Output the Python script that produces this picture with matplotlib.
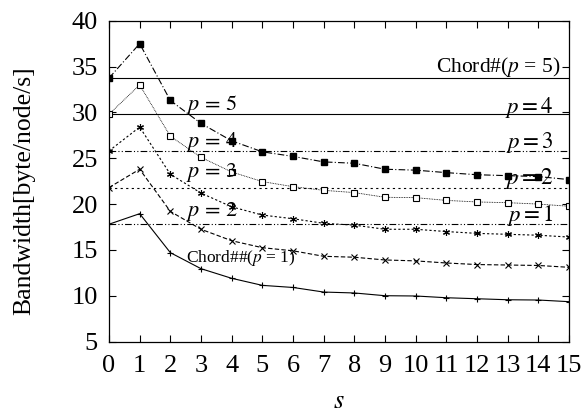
import numpy as np
import matplotlib.pyplot as plt
import matplotlib as mpl

mpl.rcParams["font.family"] = ["Liberation Serif", "DejaVu Serif"]
mpl.rcParams["mathtext.fontset"] = "stix"

s = list(range(16))

# Chord## series for p = 1..5
bw_p1 = [17.8, 18.95, 14.7, 12.95, 11.9, 11.13, 10.9, 10.4, 10.3, 10.0, 9.97, 9.78, 9.67, 9.56, 9.53, 9.35]
bw_p2 = [21.8, 23.8, 19.2, 17.25, 16.0, 15.24, 14.9, 14.3, 14.2, 13.9, 13.8, 13.57, 13.4, 13.35, 13.3, 13.1]
bw_p3 = [25.8, 28.4, 23.25, 21.2, 19.7, 18.8, 18.4, 17.9, 17.7, 17.25, 17.25, 17.0, 16.8, 16.7, 16.6, 16.4]
bw_p4 = [29.8, 33.0, 27.4, 25.1, 23.5, 22.45, 21.9, 21.5, 21.25, 20.74, 20.7, 20.4, 20.23, 20.15, 20.0, 19.76]
bw_p5 = [33.75, 37.5, 31.3, 28.8, 26.9, 25.7, 25.2, 24.6, 24.45, 23.8, 23.7, 23.43, 23.2, 23.1, 23.0, 22.67]

# Chord# constant levels for p = 1..5
chord_level = [17.8, 21.8, 25.8, 29.8, 33.75]

fig = plt.figure(figsize=(5.86, 4.15), dpi=100)
ax = fig.add_axes([0.186, 0.177, 0.785, 0.773])

# horizontal Chord# lines
hstyles = [(0, (6, 2, 1, 2, 1, 2)), (0, (2, 3)), (0, (6, 2, 1, 2, 1, 2)), "-", "-"]
for lvl, ls in zip(chord_level, hstyles):
    ax.axhline(lvl, color="black", lw=0.8, ls=ls)

ax.plot(s, bw_p1, color="black", lw=0.8, ls="-", marker="+", ms=5, mew=0.8)
ax.plot(s, bw_p2, color="black", lw=0.8, ls=(0, (4, 2)), marker="x", ms=4, mew=0.8)
ax.plot(s, bw_p3, color="black", lw=0.8, ls=(0, (2, 2)), marker=(6, 2, 0), ms=5, mew=0.8)
ax.plot(s, bw_p4, color="black", lw=0.6, ls=(0, (1, 1)), marker="s", ms=4.2, mfc="white", mew=0.8)
ax.plot(s, bw_p5, color="black", lw=0.8, ls=(0, (6, 2, 1, 2)), marker="s", ms=5)

fs = 19
# left labels for Chord## series
ax.text(2.5, 30.85, "$p\\,{=}\\,5$", fontsize=16, va="center", ha="left")
ax.text(2.5, 26.8, "$p\\,{=}\\,4$", fontsize=16, va="center", ha="left")
ax.text(2.5, 23.4, "$p\\,{=}\\,3$", fontsize=16, va="center", ha="left")
ax.text(2.5, 19.2, "$p\\,{=}\\,2$", fontsize=16, va="center", ha="left")
ax.text(2.5, 14.1, "Chord##($p$ = 1)", fontsize=12.5, va="center", ha="left")

# right labels for Chord# lines
ax.text(14.72, 34.95, "Chord#($p$ = 5)", fontsize=15.5, va="center", ha="right")
ax.text(14.5, 30.5, "$p = 4$", fontsize=16.5, va="center", ha="right")
ax.text(14.5, 26.7, "$p = 3$", fontsize=16.5, va="center", ha="right")
ax.text(14.5, 22.8, "$p = 2$", fontsize=16.5, va="center", ha="right")
ax.text(14.5, 18.8, "$p = 1$", fontsize=16.5, va="center", ha="right")

ax.set_xlim(0, 15)
ax.set_ylim(5, 40)
ax.set_xticks(s)
ax.set_yticks(range(5, 41, 5))
ax.tick_params(direction="in", top=True, right=True, length=5, width=0.8,
               labelsize=fs)
ax.tick_params(axis="x", pad=10)
ax.tick_params(axis="y", pad=8)
for sp in ax.spines.values():
    sp.set_linewidth(0.9)

ax.set_xlabel("$s$", fontsize=fs, labelpad=10)
ax.set_ylabel("Bandwidth[byte/node/s]", fontsize=18.5)
ax.yaxis.set_label_coords(-0.16, 0.47)

plt.savefig("out.png", dpi=100)
